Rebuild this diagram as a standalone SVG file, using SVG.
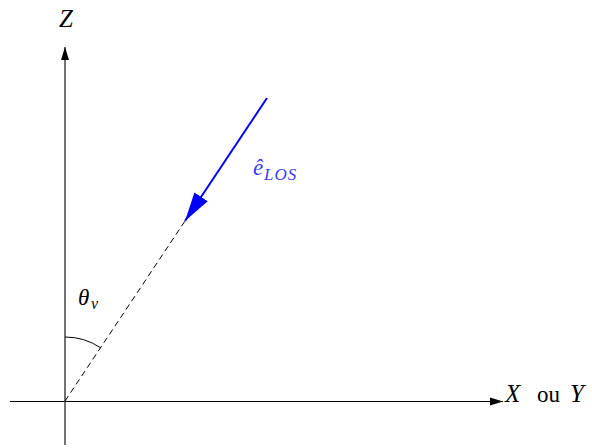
<svg xmlns="http://www.w3.org/2000/svg" width="592" height="448" viewBox="0 0 592 448">
<style>
.ax{stroke:#000;stroke-width:1.1;fill:none}
.t{font-family:"Liberation Serif","DejaVu Serif",serif;font-style:italic;fill:#000}
.r{font-family:"Liberation Serif","DejaVu Serif",serif;fill:#000}
.b{fill:#3a3aff}
</style>
<defs>
<marker id="ah" markerWidth="14" markerHeight="10" refX="13" refY="5" orient="auto" markerUnits="userSpaceOnUse">
<path d="M0,1 L13,5 L0,9 Z" fill="#000"/>
</marker>
<marker id="bh" markerWidth="30" markerHeight="18" refX="29" refY="9" orient="auto" markerUnits="userSpaceOnUse">
<path d="M0,1 L29,9 L0,17 Z" fill="#0000ff"/>
</marker>
</defs>
<g id="connectors">
<line id="z-axis" class="ax" x1="65" y1="445" x2="65" y2="47" marker-end="url(#ah)"/>
<line id="xy-axis" class="ax" x1="10" y1="401.5" x2="503" y2="401.5" marker-end="url(#ah)"/>
<line id="los-dash" x1="65" y1="401" x2="185" y2="221" stroke="#000" stroke-width="1" stroke-dasharray="6,4"/>
<line id="los-arrow" x1="267" y1="98" x2="185" y2="221" stroke="#0000ff" stroke-width="2" marker-end="url(#bh)"/>
<path id="angle-arc" d="M65,337 A64,64 0 0 1 100.5,347.7" fill="none" stroke="#000" stroke-width="1"/>
</g>
<g id="label-z"><text class="t" x="59" y="27" font-size="25">Z</text></g>
<g id="label-xy">
<text class="t" x="505" y="402" font-size="25">X</text>
<text class="r" x="537" y="402" font-size="23">ou</text>
<text class="t" x="570" y="402" font-size="25">Y</text>
</g>
<g id="label-elos">
<text class="t b" x="253" y="175" font-size="23">ê</text>
<text class="t b" x="264" y="180" font-size="17" letter-spacing="1">LOS</text>
</g>
<g id="label-theta">
<text class="t" x="78" y="305" font-size="23">θ</text>
<text class="t" x="91" y="309" font-size="16">v</text>
</g>
</svg>
